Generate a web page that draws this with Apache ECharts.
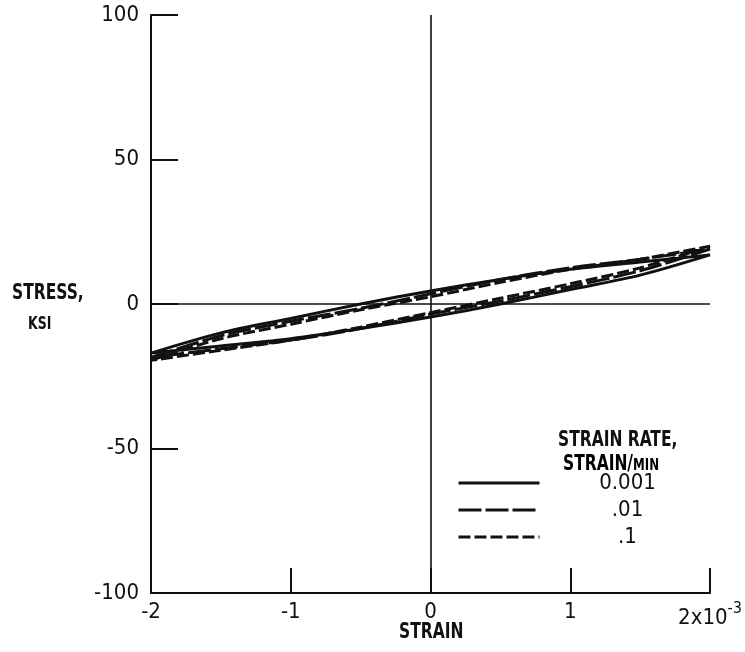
<!DOCTYPE html>
<html>
<head>
<meta charset="utf-8">
<script src="https://cdn.jsdelivr.net/npm/echarts@6/dist/echarts.min.js"></script>
<style>
  html, body { margin: 0; padding: 0; background: #fff; }
  #main { width: 745px; height: 652px; }
</style>
</head>
<body>
<div id="main"></div>
<script>
var chartDom = document.getElementById('main');
var myChart = echarts.init(chartDom);
var option;

var FONT = "'Liberation Sans Narrow', 'DejaVu Sans Condensed', sans-serif";
var INK = '#111';

// strain in units of 1e-3
const strain = [-2, -1.5, -1, -0.5, 0, 0.5, 1, 1.5, 2];
const rates = ['0.001', '.01', '.1'];

// stress (ksi) on the upper branch and lower branch of each loop, read at the strains above
const upper001 = [-17, -10, -5, 0, 4.5, 8.5, 12, 14.5, 17];
const lower001 = [-17, -14.5, -12, -8.5, -4.5, 0, 5, 10, 17];
const upper01 = [-18.5, -11, -6, -1.5, 3.5, 8.5, 12.5, 15.5, 19];
const lower01 = [-18.5, -15.5, -12.5, -8.5, -3.5, 1, 6, 11.5, 19];
const upper1 = [-19.5, -12, -7, -2, 2.5, 7.5, 12, 15.5, 20];
const lower1 = [-19.5, -16, -12.5, -8, -3, 2, 7, 12.5, 20];

// closed loop: go right along the upper branch, back left along the lower one
function loop(up, low) {
  var pts = [];
  for (var i = 0; i < strain.length; i++) pts.push([strain[i], up[i]]);
  for (var j = strain.length - 2; j >= 0; j--) pts.push([strain[j], low[j]]);
  return pts;
}

const dashes = ['solid', [23, 4], [12, 4]];
const loops = [loop(upper001, lower001), loop(upper01, lower01), loop(upper1, lower1)];

var series = rates.map(function (r, i) {
  return {
    name: r,
    type: 'line',
    data: loops[i],
    symbol: 'none',
    smooth: 0.3,
    color: INK,
    lineStyle: { color: INK, width: 3, type: dashes[i] },
    z: 3
  };
});

// zero lines across the plot
series[0].markLine = {
  silent: true,
  symbol: 'none',
  label: { show: false },
  lineStyle: { color: INK, width: 1.6, type: 'solid' },
  data: [{ xAxis: 0 }, { yAxis: 0 }]
};

// narrow caps text for the titles
function title(x, y, text, size, sx) {
  return {
    type: 'text', x: x, y: y, scaleX: sx || 0.82,
    style: { text: text, fontFamily: FONT, fontSize: size, fontWeight: 'bold', fill: INK, textVerticalAlign: 'middle' }
  };
}

option = {
  animation: false,
  backgroundColor: '#fff',
  grid: { left: 151, top: 15, right: 35, bottom: 59 },
  xAxis: {
    type: 'value',
    min: -2,
    max: 2,
    interval: 1,
    axisLine: { onZero: false, lineStyle: { color: INK, width: 2 } },
    axisTick: { inside: true, length: 25, lineStyle: { color: INK, width: 2 } },
    splitLine: { show: false },
    axisLabel: {
      margin: 8,
      color: INK,
      fontFamily: FONT,
      fontSize: 22,
      formatter: function (v) {
        if (v === 2) return '{a|2x10}{b|-3}';
        return '{a|' + String(v) + '}';
      },
      rich: {
        a: { fontFamily: FONT, fontSize: 22, color: INK },
        b: { fontFamily: FONT, fontSize: 16, color: INK, padding: [0, 0, 18, 0] }
      }
    }
  },
  yAxis: {
    type: 'value',
    min: -100,
    max: 100,
    interval: 50,
    axisLine: { show: true, onZero: false, lineStyle: { color: INK, width: 2 } },
    axisTick: { show: true, inside: true, length: 27, lineStyle: { color: INK, width: 2 } },
    splitLine: { show: false },
    axisLabel: { margin: 12, color: INK, fontFamily: FONT, fontSize: 22 }
  },
  legend: {
    orient: 'vertical',
    left: 452,
    top: 467,
    itemWidth: 81,
    itemHeight: 12,
    itemGap: 5,
    data: rates,
    itemStyle: { opacity: 0 },
    lineStyle: { width: 3 },
    formatter: '{c|{name}}',
    textStyle: {
      color: INK,
      fontFamily: FONT,
      fontSize: 22,
      rich: { c: { width: 166, align: 'center', fontFamily: FONT, fontSize: 22, color: INK } }
    }
  },
  graphic: [
    title(12, 294, 'STRESS,', 21),
    title(28, 325, 'KSI', 17),
    title(399, 633, 'STRAIN', 21),
    title(558, 441, 'STRAIN RATE,', 21),
    {
      type: 'text', x: 563, y: 465, scaleX: 0.82,
      style: {
        text: '{s|STRAIN/}{m|MIN}',
        textVerticalAlign: 'middle',
        rich: {
          s: { fontFamily: FONT, fontSize: 21, fontWeight: 'bold', color: INK },
          m: { fontFamily: FONT, fontSize: 16, fontWeight: 'bold', color: INK, padding: [1, 0, 0, 0] }
        }
      }
    }
  ],
  series: series
};

option && myChart.setOption(option);
</script>
</body>
</html>
